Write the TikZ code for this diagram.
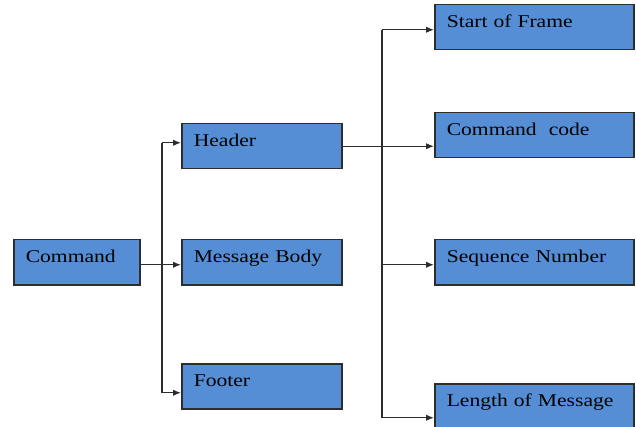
\documentclass[tikz,border=0pt]{standalone}
\usepackage{fontspec}
\setmainfont[FakeStretch=1.2]{Liberation Serif}
\usetikzlibrary{arrows.meta,positioning}

\definecolor{boxblue}{RGB}{85,142,213}
\definecolor{edgegray}{RGB}{45,45,45}

\tikzset{
    field/.style={draw=edgegray, line width=1.5pt, fill=boxblue, anchor=north west,
        align=left, inner xsep=12pt, inner ysep=0pt, minimum height=45pt,
        text height=13pt, text depth=13pt, text=black,
        font=\fontsize{18}{20}\selectfont},
    narrow/.style={field, minimum width=126pt, text width=102pt},
    middle/.style={field, minimum width=160pt, text width=136pt},
    wide/.style={field, minimum width=199pt, text width=175pt},
    link/.style={draw=edgegray, line width=1.4pt},
    feed/.style={link, -{Latex[length=8pt,width=6.5pt]}}
}

\begin{document}
\begin{tikzpicture}[x=1pt, y=-1pt]

    \useasboundingbox (0,0) rectangle (636,427);

    % Left and middle columns
    \node[narrow] (cmd) at (13,239) {Command};
    \node[middle] (hdr) at (181,123) {Header};
    \node[middle] (body) at (181,239) {Message Body};
    \node[middle] (ftr) at (181,363) {Footer};

    % Header fields
    \node[wide] (sof) at (434,4) {Start of Frame};
    \node[wide] (code) at (434,112) {Command\ \ code};
    \node[wide] (seq) at (434,239) {Sequence Number};
    \node[wide] (len) at (434,383) {Length of Message};

    % Trunk lines
    \coordinate (trunkL) at (162,0);
    \coordinate (trunkR) at (382,0);

    % Command to its parts
    \draw[feed] ([yshift=-2.5pt]cmd.east) -- ([yshift=-2.5pt]body.west);
    \draw[link] ([yshift=3.5pt]trunkL |- hdr.west) -- ([yshift=-6.5pt]trunkL |- ftr.west);
    \draw[feed] ([yshift=3.5pt]trunkL |- hdr.west) -- ([yshift=3.5pt]hdr.west);
    \draw[feed] ([yshift=-6.5pt]trunkL |- ftr.west) -- ([yshift=-6.5pt]ftr.west);

    % Header to its fields
    \draw[feed] (hdr.east) -- (code.west |- hdr.east);
    \draw[link] ([yshift=-2.5pt]trunkR |- sof.west) -- ([yshift=-11.5pt]trunkR |- len.west);
    \draw[feed] ([yshift=-2.5pt]trunkR |- sof.west) -- ([yshift=-2.5pt]sof.west);
    \draw[feed] ([yshift=-2.5pt]trunkR |- seq.west) -- ([yshift=-2.5pt]seq.west);
    \draw[feed] ([yshift=-11.5pt]trunkR |- len.west) -- ([yshift=-11.5pt]len.west);

\end{tikzpicture}
\end{document}
